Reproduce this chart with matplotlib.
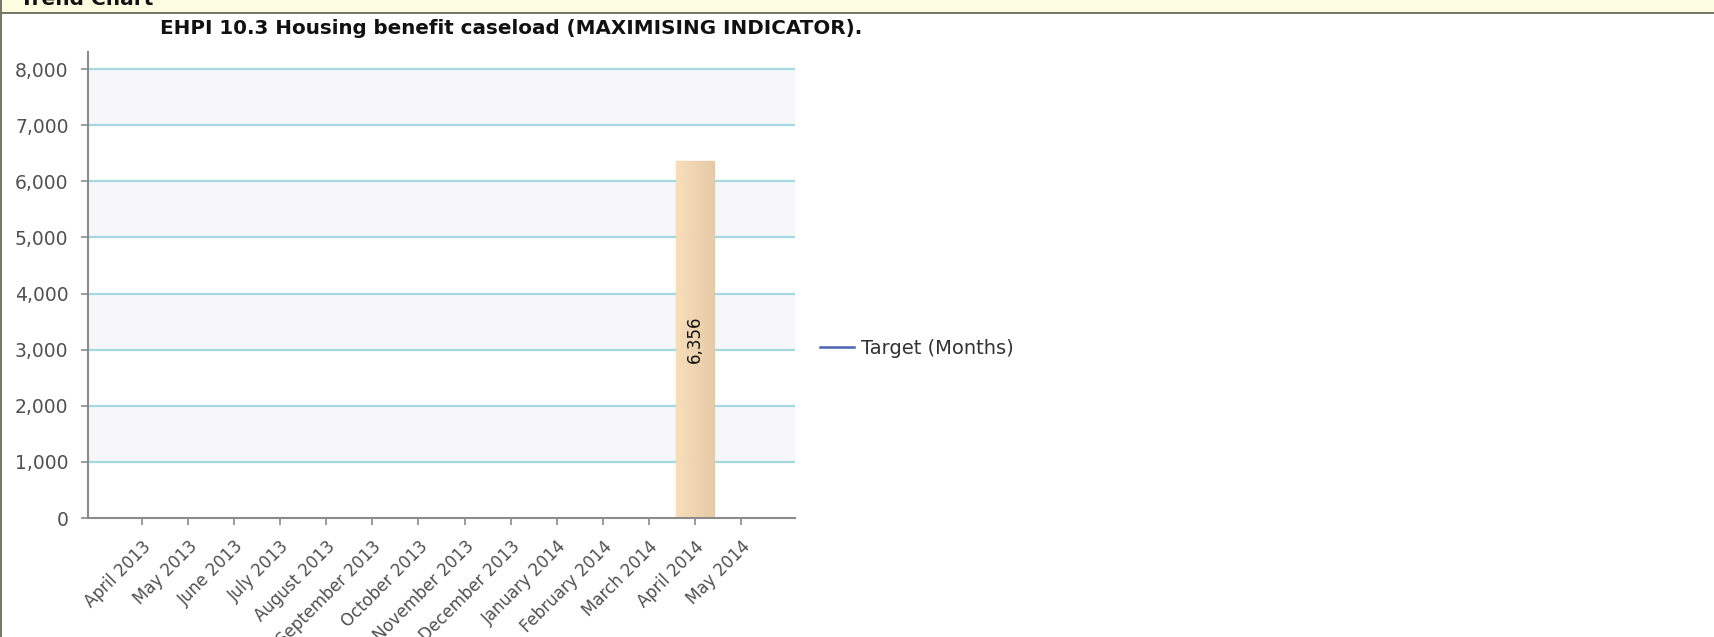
import matplotlib
matplotlib.use("Agg")
import matplotlib.pyplot as plt
import matplotlib.patches as patches
from matplotlib.ticker import FuncFormatter
import numpy as np

months = ['April 2013', 'May 2013', 'June 2013', 'July 2013', 'August 2013',
          'September 2013', 'October 2013', 'November 2013', 'December 2013',
          'January 2014', 'February 2014', 'March 2014', 'April 2014', 'May 2014']
# only April 2014 has an actual value
actual = [None, None, None, None, None, None, None, None, None, None, None, None, 6356, None]
target = []   # target series is empty, only shows in the legend

W, H = 1714, 637
fig = plt.figure(figsize=(W / 100, H / 100), dpi=100)
fig.patch.set_facecolor('white')

# panel frame: yellow header strip, dark rules
fig.add_artist(patches.Rectangle((0, 1 - 12 / H), 1, 12 / H, transform=fig.transFigure,
                                 facecolor='#fcfce1', edgecolor='none', zorder=0))
fig.add_artist(patches.Rectangle((0, 1 - 14 / H), 1, 2 / H, transform=fig.transFigure,
                                 facecolor='#77776a', edgecolor='none', zorder=1))
fig.add_artist(patches.Rectangle((0, 0), 2 / W, 1, transform=fig.transFigure,
                                 facecolor='#77776a', edgecolor='none', zorder=1))
fig.text(20 / W, 1 - 5 / H, 'Trend Chart', fontsize=14.5, fontweight='bold',
         color='#111111', ha='left', va='baseline')

ax = fig.add_axes([88 / W, 1 - 518 / H, (795 - 88) / W, (518 - 52) / H])

# alternating bands + light blue grid
for lo in range(1000, 8000, 2000):
    ax.axhspan(lo, lo + 1000, color='#f7f7fa', zorder=0, lw=0)
for v in range(1000, 9000, 1000):
    ax.axhline(v, color='#a4d9e2', lw=1.6, zorder=1)

x = np.arange(len(months))
cmap = matplotlib.colors.LinearSegmentedColormap.from_list('bar', ['#f9dfbc', '#e6caa6'])
for i, val in enumerate(actual):
    if val is None:
        continue
    bar = ax.bar(x[i], val, width=0.83, color='#f0d4ae', edgecolor='#e6c9a0',
                 lw=1, zorder=2, alpha=0.92)[0]
    # horizontal gradient inside the bar
    grad = np.linspace(0, 1, 64).reshape(1, -1)
    im = ax.imshow(grad, cmap=cmap, aspect='auto', zorder=2, alpha=0.92,
                   extent=[bar.get_x(), bar.get_x() + bar.get_width(), 0, val])
    im.set_clip_path(bar)
    ax.text(x[i], val / 2, f'{val:,}', rotation=90, ha='center', va='center',
            fontsize=12, color='#111111', zorder=3)

ax.plot(target, target, color='#4a64b4', lw=1.8, label='Target (Months)')

ax.set_aspect('auto')
ax.set_xlim(-1.17, 14.17)
ax.set_ylim(0, 8303)

for s in ['top', 'right']:
    ax.spines[s].set_visible(False)
for s in ['left', 'bottom']:
    ax.spines[s].set_color('#8a8a8a')
    ax.spines[s].set_linewidth(1.5)

ax.set_yticks(range(0, 9000, 1000))
ax.yaxis.set_major_formatter(FuncFormatter(lambda v, p: f'{int(v):,}'))
ax.tick_params(axis='y', colors='#8a8a8a', labelcolor='#505050', labelsize=13.5,
               length=5, width=1.2, pad=9)
ax.set_xticks(x)
ax.set_xticklabels(months, rotation=45, ha='right', va='top', rotation_mode='anchor')
ax.tick_params(axis='x', colors='#8a8a8a', labelcolor='#505050', labelsize=12,
               length=5, width=1.2, pad=9)

fig.text(511 / W, 1 - 28 / H, 'EHPI 10.3 Housing benefit caseload (MAXIMISING INDICATOR).',
         fontsize=14.3, fontweight='bold', color='#111111', ha='center', va='center')

ax.legend(loc='center left', bbox_to_anchor=(820 / W, 1 - 348 / H),
          bbox_transform=fig.transFigure, frameon=False, fontsize=14,
          handlelength=1.75, handletextpad=0.36, borderpad=0, borderaxespad=0,
          labelcolor='#333333')

fig.savefig('out.png', dpi=100)
